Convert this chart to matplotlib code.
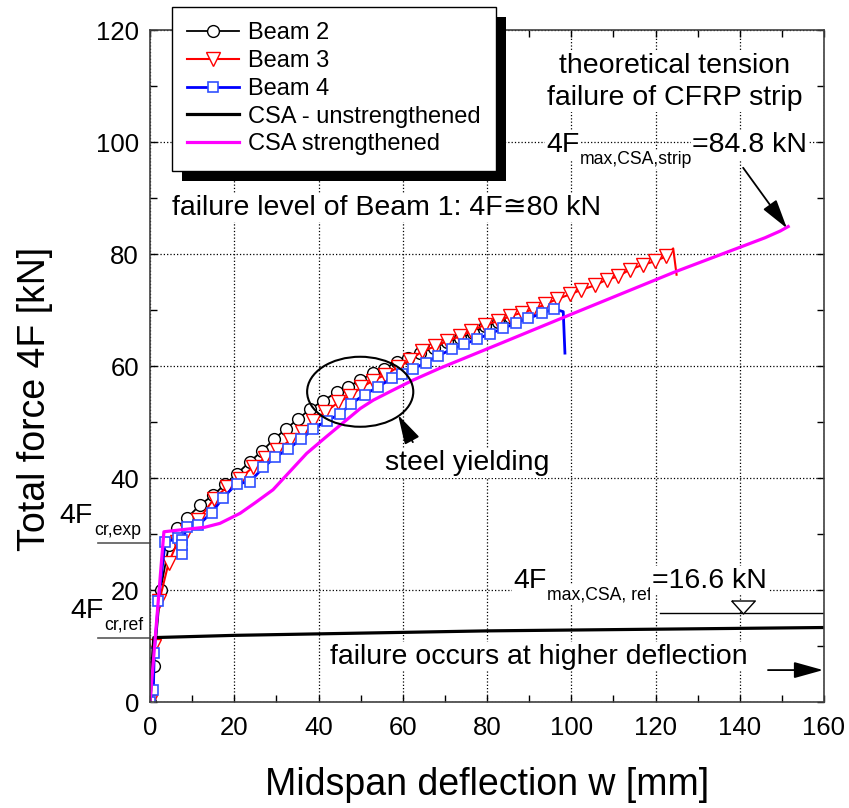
import numpy as np
import matplotlib
matplotlib.use("Agg")
import matplotlib.pyplot as plt
from matplotlib.patches import Ellipse, Rectangle
from matplotlib.transforms import IdentityTransform

plt.rcParams['font.family'] = ['Liberation Sans', 'DejaVu Sans']

# ---- data (w in mm, 4F in kN) ----
beam2_w = [0, 0.9, 2.5, 4.5, 6.5, 8.7, 11.9, 14.9, 17.9, 20.7, 23.7, 26.7, 29.4, 32.3,
           35.1, 38.0, 41.1, 44.3, 47.1, 49.9, 52.9, 55.6, 58.6, 61.2, 64.1, 67.3, 70.4,
           73.6, 76.7, 79.5, 82.7, 85.5, 87.5]
beam2_F = [0, 6.5, 20, 28, 31, 32.8, 35.2, 36.9, 38.9, 40.8, 42.9, 44.9, 46.9, 48.8,
           50.5, 52.3, 53.8, 55.3, 56.3, 57.5, 58.7, 59.5, 60.8, 61.4, 62.3, 63.2, 64.2,
           65.0, 65.9, 67.1, 67.8, 68.8, 69.3]

beam3_w = [0, 1.0, 2.2, 4.4, 6.5, 8.8, 11.5, 15.2, 18.3, 21.4, 24.5, 27.3, 30.1, 33.2,
           36.0, 38.8, 41.5, 44.7, 47.5, 50.2, 53.0, 55.8, 58.9, 61.7, 64.5, 67.7, 70.4,
           73.6, 76.3, 79.5, 82.7, 85.5, 88.2, 91.0, 93.8, 96.5, 99.7, 102.4, 105.6, 108.4,
           111.1, 113.9, 117.1, 119.9, 122.6, 124.2, 125.0]
beam3_F = [0, 10, 18, 24.8, 28.5, 30.5, 32.5, 36.3, 38.4, 39.9, 42.0, 43.6, 45.0, 46.7,
           48.2, 50.2, 51.7, 53.5, 54.7, 56.2, 57.4, 58.4, 59.8, 61.0, 62.6, 63.5, 64.4,
           65.3, 66.2, 67.4, 68.0, 68.9, 69.5, 70.1, 71.0, 71.9, 72.8, 73.6, 74.4, 75.4,
           76.0, 77.2, 78.1, 78.7, 79.6, 81.0, 76.3]

beam4_w = [0, 0.8, 1.0, 2.0, 3.6, 6.7, 7.5, 7.5, 7.5, 8.7, 11.5, 14.6, 17.4, 20.6, 23.7,
           26.9, 29.7, 32.8, 35.8, 38.8, 41.9, 45.1, 47.8, 51.0, 54.2, 57.4, 59.9, 62.5,
           65.5, 68.4, 71.6, 74.6, 77.7, 80.7, 83.9, 86.9, 89.8, 93.0, 95.9, 98.1, 98.5]
beam4_F = [0, 2.1, 8.7, 18, 28.6, 29.2, 29.0, 26.5, 28.0, 31.3, 31.6, 33.8, 36.5, 39.0, 39.3,
           41.9, 43.7, 45.2, 46.9, 48.8, 50.2, 51.4, 53.3, 54.9, 56.3, 57.8, 58.6, 59.5,
           60.6, 61.8, 63.0, 63.9, 64.8, 65.8, 66.7, 67.7, 68.5, 69.4, 70.2, 69.7, 62.3]

csa_ref_w = [0, 0.9, 20, 80, 160]
csa_ref_F = [0, 11.5, 11.9, 12.7, 13.3]

csa_str_w = [0, 3.3, 8, 13, 16.6, 19, 21.4, 25, 29.2, 37.2, 41.9, 46.7, 49.9, 53.0, 57.7,
             62.5, 68.8, 83.1, 98.9, 124.6, 146, 149.6, 151.5]
csa_str_F = [0, 30.4, 30.8, 31.2, 31.9, 32.8, 33.7, 35.6, 37.9, 44.4, 47.4, 50.4, 52.4,
             53.9, 55.7, 57.5, 59.6, 64.0, 68.9, 76.8, 82.9, 84.1, 84.9]

F_cr_exp = 28.4
F_cr_ref = 11.4
F_max_ref = 15.85

fig = plt.figure(figsize=(8.49, 8.08), dpi=100)
ax = fig.add_axes([150/849, 1 - 702/808, 674/849, 672/808])

ax.plot(beam2_w, beam2_F, color='k', lw=1.3, marker='o', ms=8.5, mfc='w', mec='k',
        mew=1, label='Beam 2')
ax.plot(beam3_w, beam3_F, color='red', lw=1.5, marker='v', ms=10, mfc='w', mec='red',
        mew=1, markevery=slice(0, len(beam3_w) - 2), label='Beam 3')
ax.plot(beam4_w, beam4_F, color='blue', lw=2, marker='s', ms=7.5, mfc='w', mec='#3050ff',
        mew=1.2, markevery=slice(0, len(beam4_w) - 2), label='Beam 4')
ax.plot(csa_ref_w, csa_ref_F, color='k', lw=2.3, label='CSA - unstrengthened')
ax.plot(csa_str_w, csa_str_F, color='magenta', lw=2.3, label='CSA strengthened')

ax.set_xlim(0, 160)
ax.set_ylim(0, 120)
ax.set_xticks(np.arange(0, 161, 20))
ax.set_xticks(np.arange(0, 161, 10), minor=True)
ax.set_yticks(np.arange(0, 121, 20))
ax.set_yticks(np.arange(0, 121, 10), minor=True)
ax.tick_params(which='both', direction='in', top=True, right=True, length=5, width=1)
ax.tick_params(which='major', labelsize=18.5, pad=8)
ax.tick_params(axis='x', which='major', pad=10)
ax.grid(True, which='major', ls=':', color='k', lw=0.9)
for s in ax.spines.values():
    s.set_linewidth(1.2)
    s.set_color('0.25')

fig.text(487/849, 1 - 795/808, 'Midspan deflection w [mm]', fontsize=27,
         ha='center', va='baseline')
fig.text(35/849, 1 - 399/808, 'Total force 4F [kN]', fontsize=27, rotation=90,
         ha='center', va='center')

wbox = dict(fc='white', ec='none', pad=1)


def sub_text(x, y, main, sub, rest='', size=20.5, subsize=12.7, box=True):
    b = wbox if box else None
    t1 = ax.text(x, y, main, fontsize=size, va='baseline', ha='left', bbox=b)
    t2 = ax.annotate(sub, xy=(1, 0), xycoords=t1, xytext=(0.5, -4.3),
                     textcoords='offset points', fontsize=subsize, va='baseline',
                     ha='left', bbox=b)
    if rest:
        ax.annotate(rest, xy=(1, 0), xycoords=(t2, t1), xytext=(0, 0),
                    textcoords='offset points', fontsize=size, va='bottom',
                    ha='left', bbox=b)


ax.text(124.6, 110.8, 'theoretical tension\nfailure of CFRP strip', fontsize=20.5,
        ha='center', va='center', multialignment='center', linespacing=1.3, bbox=wbox)
sub_text(94.0, 98.2, '4F', 'max,CSA,strip', '=84.8 kN')
ax.text(5.2, 87.0, 'failure level of Beam 1: 4F\u224580 kN', fontsize=20.5,
        va='baseline', bbox=wbox)
ax.text(55.8, 41.4, 'steel yielding', fontsize=20.5, va='baseline', bbox=wbox)
sub_text(86.2, 20.4, '4F', 'max,CSA, ref', '=16.6 kN')
ax.text(42.7, 6.8, 'failure occurs at higher deflection', fontsize=20.5,
        va='baseline', bbox=wbox)

sub_text(-21.4, 32.0, '4F', 'cr,exp', box=False)
sub_text(-19.0, 15.0, '4F', 'cr,ref', box=False)
ax.plot([-12.3, 0], [F_cr_exp, F_cr_exp], color='0.35', lw=1.2, clip_on=False)
ax.plot([-12.3, 0], [F_cr_ref, F_cr_ref], color='0.35', lw=1.2, clip_on=False)

arr = dict(arrowstyle='-|>,head_length=0.9,head_width=0.25', color='k', lw=1.3,
           mutation_scale=20, shrinkA=0, shrinkB=0)
ax.annotate('', xy=(151.2, 84.6), xytext=(140.8, 95.4), arrowprops=arr)
ax.annotate('', xy=(58.9, 51.25), xytext=(62.4, 46.4), arrowprops=arr)
ax.annotate('', xy=(159.8, 5.7), xytext=(146.7, 5.7), arrowprops=arr)

ax.add_patch(Ellipse((49.9, 55.4), 25.2, 12.5, fill=False, ec='k', lw=1.5, zorder=4))

ax.plot([121.1, 160], [F_max_ref, F_max_ref], color='k', lw=1)
tri = [(-1, 0.55), (1, 0.55), (0, -0.55), (-1, 0.55)]
ax.plot([140.8], [F_max_ref + 1.2], marker=tri, ms=17, mfc='w', mec='k', mew=1,
        ls='none')

leg = ax.legend(loc='upper left', bbox_to_anchor=(172/849, 1 - 7/808),
                bbox_transform=fig.transFigure, borderaxespad=0, fontsize=17,
                fancybox=False, edgecolor='k', framealpha=1, handlelength=2.2,
                handletextpad=0.35, labelspacing=0.245, borderpad=0.65)
leg.get_frame().set_linewidth(1)

fig.canvas.draw()
bb = leg.get_window_extent()
ax.add_artist(Rectangle((bb.x0 + 10, bb.y0 - 10), bb.width, bb.height,
                        transform=IdentityTransform(), fc='k', ec='none',
                        zorder=leg.get_zorder() - 0.1, clip_on=False))

fig.savefig('out.png', dpi=100)
